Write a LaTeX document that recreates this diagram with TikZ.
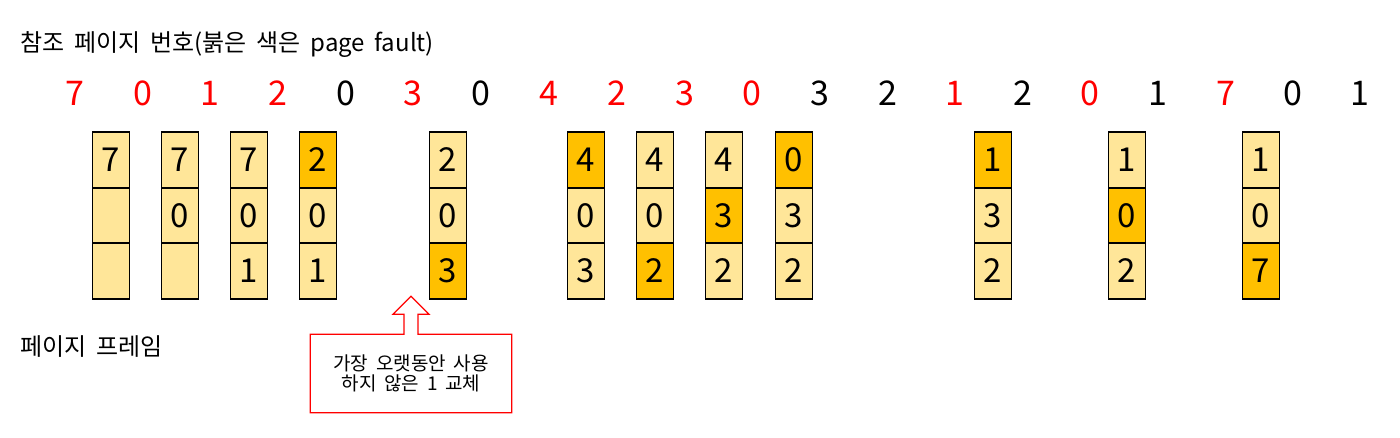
\documentclass[tikz,border=0pt]{standalone}
\usepackage{fontspec}
\setmainfont{Noto Sans CJK KR}[WordSpace=1.8]
\usetikzlibrary{calc,positioning}
\definecolor{slotlight}{HTML}{FFE699}
\definecolor{slotdark}{HTML}{FFC000}

\begin{document}
\begin{tikzpicture}
[x=1pt, y=-1pt, line width=1.6pt,
label/.style={anchor=west, inner sep=0pt, font=\fontsize{24}{28}\selectfont},
hit/.style={inner sep=0pt, font=\fontsize{34}{38}\selectfont},
fault/.style={hit, text=red},
slot0/.style={rectangle, draw, fill=slotlight, inner sep=0pt, minimum width=37pt, minimum height=55.5pt, font=\fontsize{33}{38}\selectfont},
slot1/.style={slot0, fill=slotdark},
callout/.style={draw=red, line width=1.3pt}]

\useasboundingbox (0,0) rectangle (1400,437);

\node[label] (title) at (20,45) {참조 페이지 번호(붉은 색은 page fault)};
\node[label] (frames) at (20,347) {페이지 프레임};

% reference string
\node[fault] (r0) at (75,93) {7};
\node[fault] (r1) at (143,93) {0};
\node[fault] (r2) at (210,93) {1};
\node[fault] (r3) at (278,93) {2};
\node[hit] (r4) at (346,93) {0};
\node[fault] (r5) at (413,93) {3};
\node[hit] (r6) at (481,93) {0};
\node[fault] (r7) at (549,93) {4};
\node[fault] (r8) at (617,93) {2};
\node[fault] (r9) at (685,93) {3};
\node[fault] (r10) at (752,93) {0};
\node[hit] (r11) at (820,93) {3};
\node[hit] (r12) at (888,93) {2};
\node[fault] (r13) at (955,93) {1};
\node[hit] (r14) at (1023,93) {2};
\node[fault] (r15) at (1090,93) {0};
\node[hit] (r16) at (1158,93) {1};
\node[fault] (r17) at (1226,93) {7};
\node[hit] (r18) at (1293,93) {0};
\node[hit] (r19) at (1360,93) {1};

% page frames
\node[slot0] (f0a) at (111,160) {7};
\node[slot0] (f0b) at (111,215.5) {};
\node[slot0] (f0c) at (111,271) {};

\node[slot0] (f1a) at (180,160) {7};
\node[slot0] (f1b) at (180,215.5) {0};
\node[slot0] (f1c) at (180,271) {};

\node[slot0] (f2a) at (249,160) {7};
\node[slot0] (f2b) at (249,215.5) {0};
\node[slot0] (f2c) at (249,271) {1};

\node[slot1] (f3a) at (318,160) {2};
\node[slot0] (f3b) at (318,215.5) {0};
\node[slot0] (f3c) at (318,271) {1};

\node[slot0] (f5a) at (448,160) {2};
\node[slot0] (f5b) at (448,215.5) {0};
\node[slot1] (f5c) at (448,271) {3};

\node[slot1] (f7a) at (586,160) {4};
\node[slot0] (f7b) at (586,215.5) {0};
\node[slot0] (f7c) at (586,271) {3};

\node[slot0] (f8a) at (655,160) {4};
\node[slot0] (f8b) at (655,215.5) {0};
\node[slot1] (f8c) at (655,271) {2};

\node[slot0] (f9a) at (724,160) {4};
\node[slot1] (f9b) at (724,215.5) {3};
\node[slot0] (f9c) at (724,271) {2};

\node[slot1] (f10a) at (794,160) {0};
\node[slot0] (f10b) at (794,215.5) {3};
\node[slot0] (f10c) at (794,271) {2};

\node[slot1] (f13a) at (993,160) {1};
\node[slot0] (f13b) at (993,215.5) {3};
\node[slot0] (f13c) at (993,271) {2};

\node[slot0] (f15a) at (1127,160) {1};
\node[slot1] (f15b) at (1127,215.5) {0};
\node[slot0] (f15c) at (1127,271) {2};

\node[slot0] (f17a) at (1261,160) {1};
\node[slot0] (f17b) at (1261,215.5) {0};
\node[slot1] (f17c) at (1261,271) {7};

% replacement note
\node[minimum width=200pt, minimum height=77pt, align=center, inner sep=0pt,
  font=\fontsize{19}{20}\selectfont] (note) at (411,373.5) {가장 오랫동안 사용\\하지 않은 1 교체};
\draw[callout] (note.north west) -- ($(note.north)+(-7,0)$) -- ++(0,-20) -- ++(-11,0)
  -- ($(note.north)+(0,-38)$) -- ($(note.north)+(18,-20)$) -- ++(-11,0)
  -- ($(note.north)+(7,0)$) -- (note.north east) -- (note.south east) -- (note.south west) -- cycle;

\end{tikzpicture}
\end{document}
